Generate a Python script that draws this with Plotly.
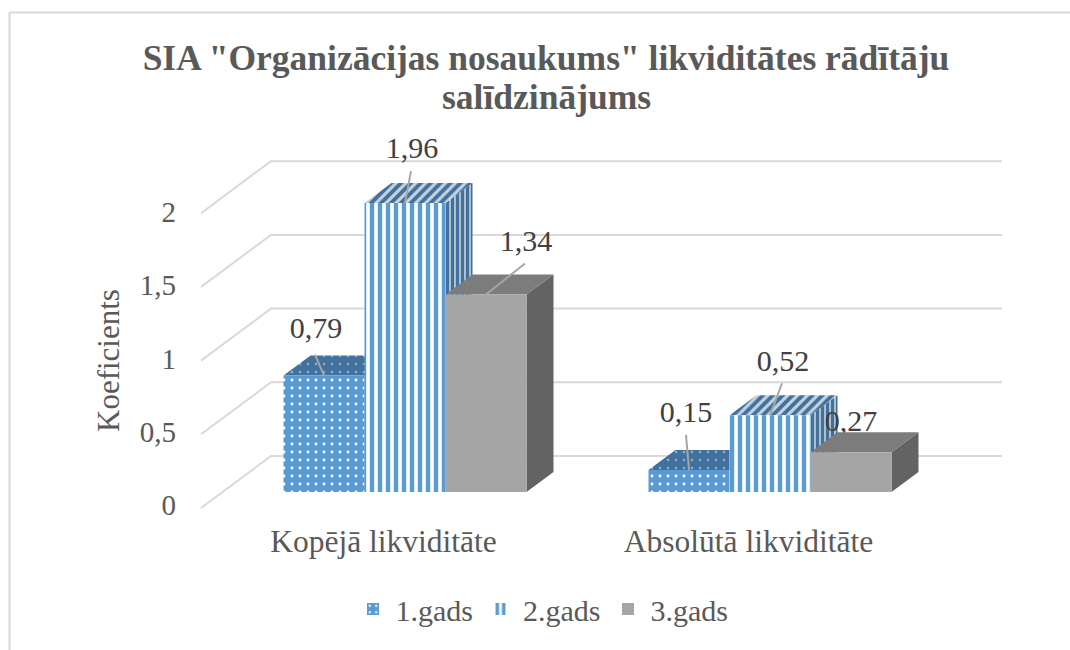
import plotly.graph_objects as go

# ---- data ----
categories = ["Kopējā likviditāte", "Absolūtā likviditāte"]
series_names = ["1.gads", "2.gads", "3.gads"]
gads_1 = [0.79, 0.15]
gads_2 = [1.96, 0.52]
gads_3 = [1.34, 0.27]
y_ticks = [0, 0.5, 1, 1.5, 2]
y_tick_labels = ["0", "0,5", "1", "1,5", "2"]
title_line_1 = 'SIA "Organizācijas nosaukums" likviditātes rādītāju'
title_line_2 = "salīdzinājums"
y_title = "Koeficients"

series_values = [gads_1, gads_2, gads_3]

# ---- geometry of the projection (pixels) ----
W, H = 1070, 650
PX_PER_CAT = 365.0
PX_PER_UNIT = 147.4
ORIGIN_X, ORIGIN_Y = 405.0, 492.0       # category 0 / value 0 on the bars' front plane
BAR_W = 81.0 / PX_PER_CAT
DEPTH_X = 27.0 / PX_PER_CAT
DEPTH_Y = 20.0 / PX_PER_UNIT
xr = [(0 - ORIGIN_X) / PX_PER_CAT, (W - ORIGIN_X) / PX_PER_CAT]
yr = [(ORIGIN_Y - H) / PX_PER_UNIT, ORIGIN_Y / PX_PER_UNIT]

# walls
WALL_LEFT_FRONT = (201 - ORIGIN_X) / PX_PER_CAT
WALL_LEFT_BACK = (271 - ORIGIN_X) / PX_PER_CAT
WALL_RIGHT_BACK = (1002 - ORIGIN_X) / PX_PER_CAT
WALL_Y_FRONT = -16.0 / PX_PER_UNIT
WALL_Y_BACK = 36.0 / PX_PER_UNIT

# label offsets from the centre of each bar's top front edge: (dx, dy) pixels, per series/category
label_off = [[(-8, 45), (-3, 55)], [(7, 53), (13, 52)], [(40, 51), (0, 29)]]
leader_end = [[(-9, 21), (-3, 35)], [(6, 32), (12, 32)], [(39, 31), None]]

GRID = "#d9d9d9"
TXT = "#595959"
FONT = "Liberation Serif"

front_style = [
    dict(color="#5b9bd5", pattern=dict(shape=".", fgcolor="#ffffff", bgcolor="#5b9bd5", size=8, solidity=0.1,
                                       fgopacity=1, fillmode="replace")),
    dict(color="#ffffff", pattern=dict(shape="|", fgcolor="#5b9bd5", bgcolor="#ffffff", size=8, solidity=0.55,
                                       fgopacity=1, fillmode="replace")),
    dict(color="#a5a5a5"),
]
top_style = [
    dict(fillcolor="#41719c", fillpattern=dict(shape=".", fgcolor="#8fb0cc", bgcolor="#41719c", size=8, solidity=0.08,
                                               fgopacity=1, fillmode="replace")),
    dict(fillcolor="#41719c", fillpattern=dict(shape="/", fgcolor="#41719c", bgcolor="#c4d3e0", size=7, solidity=0.55,
                                               fgopacity=1, fillmode="replace")),
    dict(fillcolor="#7c7c7c"),
]
side_style = [
    dict(fillcolor="#41719c"),
    dict(fillcolor="#41719c", fillpattern=dict(shape="|", fgcolor="#41719c", bgcolor="#aebfce", size=5, solidity=0.6,
                                               fgopacity=1, fillmode="replace")),
    dict(fillcolor="#636363"),
]

fig = go.Figure()

# ---- walls (bottom layer) ----
for v in y_ticks:
    fig.add_trace(go.Scatter(
        x=[WALL_LEFT_FRONT, WALL_LEFT_BACK, WALL_RIGHT_BACK],
        y=[v + WALL_Y_FRONT, v + WALL_Y_BACK, v + WALL_Y_BACK],
        mode="lines", line=dict(color=GRID, width=2), showlegend=False, hoverinfo="skip"))

n_series = len(series_values)
cat_pos = list(range(len(categories)))

# ---- depth faces and labels, back to front ----
for s, vals in enumerate(series_values):
    lx, ly, lt = [], [], []
    for c, v in enumerate(vals):
        cx = c + (s - (n_series - 1) / 2) * BAR_W
        dx, dy = label_off[s][c]
        lx.append(cx + dx / PX_PER_CAT)
        ly.append(v + dy / PX_PER_UNIT)
        lt.append(f"{v:.2f}".replace(".", ","))
    fig.add_trace(go.Scatter(x=lx, y=ly, text=lt, mode="text", textposition="middle center",
                             textfont=dict(family=FONT, size=30, color="#404040"),
                             showlegend=False, hoverinfo="skip"))
    for c, v in enumerate(vals):
        cx = c + (s - (n_series - 1) / 2) * BAR_W
        x0, x1 = cx - BAR_W / 2, cx + BAR_W / 2
        fig.add_trace(go.Scatter(
            x=[x1, x1 + DEPTH_X, x1 + DEPTH_X, x1, x1], y=[0, DEPTH_Y, v + DEPTH_Y, v, 0],
            mode="lines", line=dict(width=0), fill="toself", showlegend=False, hoverinfo="skip", **side_style[s]))
        fig.add_trace(go.Scatter(
            x=[x0, x0 + DEPTH_X, x1 + DEPTH_X, x1, x0], y=[v, v + DEPTH_Y, v + DEPTH_Y, v, v],
            mode="lines", line=dict(width=0), fill="toself", showlegend=False, hoverinfo="skip", **top_style[s]))

# ---- front faces on an overlaid pair of axes ----
for s, vals in enumerate(series_values):
    fig.add_trace(go.Bar(x=cat_pos, y=vals, name=series_names[s],
                         marker=dict(line=dict(width=0), **front_style[s]),
                         xaxis="x2", yaxis="y2", hoverinfo="skip"))

# ---- leader lines ----
for s, vals in enumerate(series_values):
    for c, v in enumerate(vals):
        end = leader_end[s][c]
        if end is None:
            continue
        cx = c + (s - (n_series - 1) / 2) * BAR_W
        fig.add_trace(go.Scatter(
            x=[cx, cx + end[0] / PX_PER_CAT], y=[v, v + end[1] / PX_PER_UNIT],
            mode="lines", line=dict(color="#a6a6a6", width=2),
            xaxis="x2", yaxis="y2", showlegend=False, hoverinfo="skip"))

# ---- invisible traces that carry the real tick axes ----
fig.add_trace(go.Scatter(x=categories, y=[0, 0], mode="markers", marker=dict(opacity=0),
                         xaxis="x3", yaxis="y3", showlegend=False, hoverinfo="skip"))

axis_off = dict(visible=False, showgrid=False, zeroline=False, fixedrange=True)
title_font = dict(family=FONT, size=35.5, color=TXT, weight="bold")
fig.update_layout(
    width=W, height=H, autosize=False,
    margin=dict(l=0, r=0, t=0, b=0, autoexpand=False),
    paper_bgcolor="white", plot_bgcolor="rgba(0,0,0,0)",
    barmode="group", bargap=1 - 3 * BAR_W, bargroupgap=0,
    font=dict(family=FONT, color=TXT),
    xaxis=dict(range=xr, domain=[0, 1], anchor="y", **axis_off),
    yaxis=dict(range=yr, domain=[0, 1], anchor="x", **axis_off),
    xaxis2=dict(range=xr, domain=[0, 1], anchor="y2", overlaying="x", **axis_off),
    yaxis2=dict(range=yr, domain=[0, 1], anchor="x2", overlaying="y", **axis_off),
    xaxis3=dict(type="category", categoryorder="array", categoryarray=categories,
                range=[-0.5, 1.5], domain=[201 / W, 931 / W], anchor="free", position=1 - 519 / H,
                showgrid=False, zeroline=False, showline=False, ticks="",
                tickfont=dict(family=FONT, size=31.5, color=TXT)),
    yaxis3=dict(range=[0, 2], domain=[1 - 505 / H, 1 - 212 / H], anchor="free", position=176 / W,
                showgrid=False, zeroline=False, showline=False, ticks="",
                tickmode="array", tickvals=y_ticks, ticktext=y_tick_labels,
                tickfont=dict(family=FONT, size=29, color=TXT)),
    title=dict(text=title_line_1, x=546 / W, xanchor="center", y=1 - 58 / H, yanchor="middle",
               font=title_font),
    legend=dict(orientation="h", x=542 / W, xanchor="center", y=1 - 609 / H, yanchor="middle",
                font=dict(family=FONT, size=30, color=TXT), bgcolor="rgba(0,0,0,0)",
                itemwidth=35, traceorder="normal"),
    annotations=[
        dict(text=title_line_2, xref="paper", yref="paper", x=546 / W, y=1 - 97 / H,
             showarrow=False, xanchor="center", yanchor="middle", font=title_font),
        dict(text=y_title, xref="paper", yref="paper", x=108 / W, y=1 - 361 / H,
             textangle=-90, showarrow=False, xanchor="center", yanchor="middle",
             font=dict(family=FONT, size=31, color=TXT)),
    ],
    shapes=[
        dict(type="line", xref="paper", yref="paper", x0=9.5 / W, x1=1, y0=1 - 12.5 / H, y1=1 - 12.5 / H,
             line=dict(color=GRID, width=2), layer="below"),
        dict(type="line", xref="paper", yref="paper", x0=9.5 / W, x1=9.5 / W, y0=0, y1=1 - 12.5 / H,
             line=dict(color=GRID, width=2), layer="below"),
    ],
)

fig.write_html("out.html", config=dict(displayModeBar=False),
               post_script="document.body.style.margin='0';document.body.style.overflow='hidden';")
